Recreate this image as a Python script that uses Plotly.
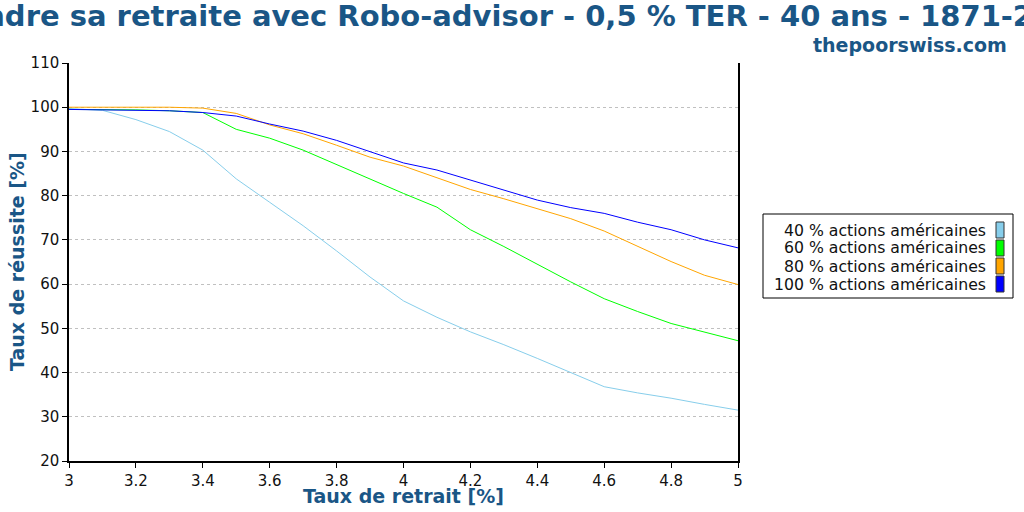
import plotly.graph_objects as go

withdrawal_rates = [3.0, 3.1, 3.2, 3.3, 3.4, 3.5, 3.6, 3.7, 3.8, 3.9, 4.0,
                    4.1, 4.2, 4.3, 4.4, 4.5, 4.6, 4.7, 4.8, 4.9, 5.0]

series_names = ["40 % actions américaines", "60 % actions américaines",
                "80 % actions américaines", "100 % actions américaines"]

success_40 = [99.7, 99.3, 97.2, 94.5, 90.3, 83.8, 78.5, 73.2, 67.5, 61.6, 56.2,
              52.5, 49.2, 46.3, 43.2, 40.0, 36.8, 35.4, 34.2, 32.8, 31.5]
success_60 = [99.5, 99.5, 99.4, 99.2, 98.8, 95.0, 93.0, 90.3, 87.0, 83.7, 80.5,
              77.4, 72.3, 68.5, 64.5, 60.5, 56.7, 53.8, 51.1, 49.2, 47.2]
success_80 = [100.0, 100.0, 100.0, 100.0, 99.8, 98.6, 96.0, 94.0, 91.4, 88.7, 86.7,
              84.0, 81.4, 79.3, 77.0, 74.8, 72.0, 68.5, 65.1, 62.0, 59.9]
success_100 = [99.5, 99.4, 99.3, 99.2, 98.8, 98.0, 96.2, 94.6, 92.5, 90.0, 87.4,
               85.8, 83.5, 81.2, 79.0, 77.3, 76.0, 74.0, 72.3, 70.0, 68.2]

colors = ["#87ceeb", "#00ff00", "#ffa500", "#0000ff"]
all_series = [success_40, success_60, success_80, success_100]

title_text = "Prendre sa retraite avec Robo-advisor - 0,5 % TER - 40 ans - 1871-2020"
subtitle_text = "thepoorswiss.com"
x_title = "Taux de retrait [%]"
y_title = "Taux de réussite [%]"
x_ticks = [3, 3.2, 3.4, 3.6, 3.8, 4, 4.2, 4.4, 4.6, 4.8, 5]
y_ticks = [20, 30, 40, 50, 60, 70, 80, 90, 100, 110]

BLUE = "#1a5686"
FONT = "DejaVu Sans"
W, H = 1024, 512
L, R, T, B = 69, 1024 - 738, 63, 512 - 461
pw, ph = W - L - R, H - T - B


def fx(xpix):
    """pixel x -> plot-area paper coordinate"""
    return (xpix - L) / pw


def fy(ypix):
    """pixel y -> plot-area paper coordinate"""
    return 1 - (ypix - T) / ph


fig = go.Figure()
for name, vals, col in zip(series_names, all_series, colors):
    fig.add_trace(go.Scatter(x=withdrawal_rates, y=vals, mode="lines", name=name,
                             line=dict(color=col, width=1), showlegend=False))

# custom legend (swatch on the right, text right-aligned)
shapes = [dict(type="rect", xref="paper", yref="paper",
               x0=fx(763), x1=fx(1013), y0=fy(298), y1=fy(214),
               line=dict(color="black", width=1), fillcolor="white", layer="above")]
annotations = []
for i, (name, col) in enumerate(zip(series_names, colors)):
    cy = 230 + i * 18
    shapes.append(dict(type="rect", xref="paper", yref="paper",
                       x0=fx(996), x1=fx(1004), y0=fy(cy + 8), y1=fy(cy - 8),
                       line=dict(color="#333333", width=1), fillcolor=col, layer="above"))
    annotations.append(dict(text=name, xref="paper", yref="paper", x=fx(988), y=fy(cy),
                            xanchor="right", yanchor="middle", showarrow=False,
                            font=dict(family=FONT, size=15.7, color="#111111")))

annotations.append(dict(text="<b>" + subtitle_text + "</b>", xref="paper", yref="paper",
                        x=fx(1009), y=fy(45), xanchor="right", yanchor="middle",
                        showarrow=False, font=dict(family=FONT, size=19, color=BLUE)))
annotations.append(dict(text="<b>" + title_text + "</b>", xref="paper", yref="paper",
                        x=fx(512), y=fy(16), xanchor="center", yanchor="middle",
                        showarrow=False, font=dict(family=FONT, size=29, color=BLUE)))
# axis titles
annotations.append(dict(text="<b>" + x_title + "</b>", xref="paper", yref="paper",
                        x=fx(403), y=fy(496), xanchor="center", yanchor="middle",
                        showarrow=False, font=dict(family=FONT, size=19, color=BLUE)))
annotations.append(dict(text="<b>" + y_title + "</b>", xref="paper", yref="paper",
                        x=fx(17), y=fy(262), xanchor="center", yanchor="middle", textangle=-90,
                        showarrow=False, font=dict(family=FONT, size=19, color=BLUE)))

fig.update_layout(
    width=W, height=H,
    margin=dict(l=L, r=R, t=T, b=B, autoexpand=False),
    paper_bgcolor="white", plot_bgcolor="white",
    shapes=shapes, annotations=annotations,
    font=dict(family=FONT, size=15, color="#111111"),
)
fig.update_xaxes(range=[3, 5], tickvals=x_ticks, ticktext=[f"{v:g}" for v in x_ticks],
                 automargin=False,
                 showgrid=False, zeroline=False, showline=True, linecolor="black", linewidth=1.5,
                 ticks="outside", ticklen=5, tickcolor="black",
                 tickfont=dict(family=FONT, size=15, color="#111111"))
fig.update_yaxes(range=[20, 110], tickvals=y_ticks, automargin=False,
                 showgrid=True, gridcolor="#c0c0c0", griddash="dot", gridwidth=1,
                 zeroline=False, showline=True, linecolor="black", linewidth=1.5, mirror=True,
                 ticks="outside", ticklen=5, tickcolor="black",
                 tickfont=dict(family=FONT, size=15, color="#111111"))

fig.write_html("out.html", config={"displayModeBar": False},
               post_script="document.body.style.margin='0';document.body.style.overflow='hidden';")
